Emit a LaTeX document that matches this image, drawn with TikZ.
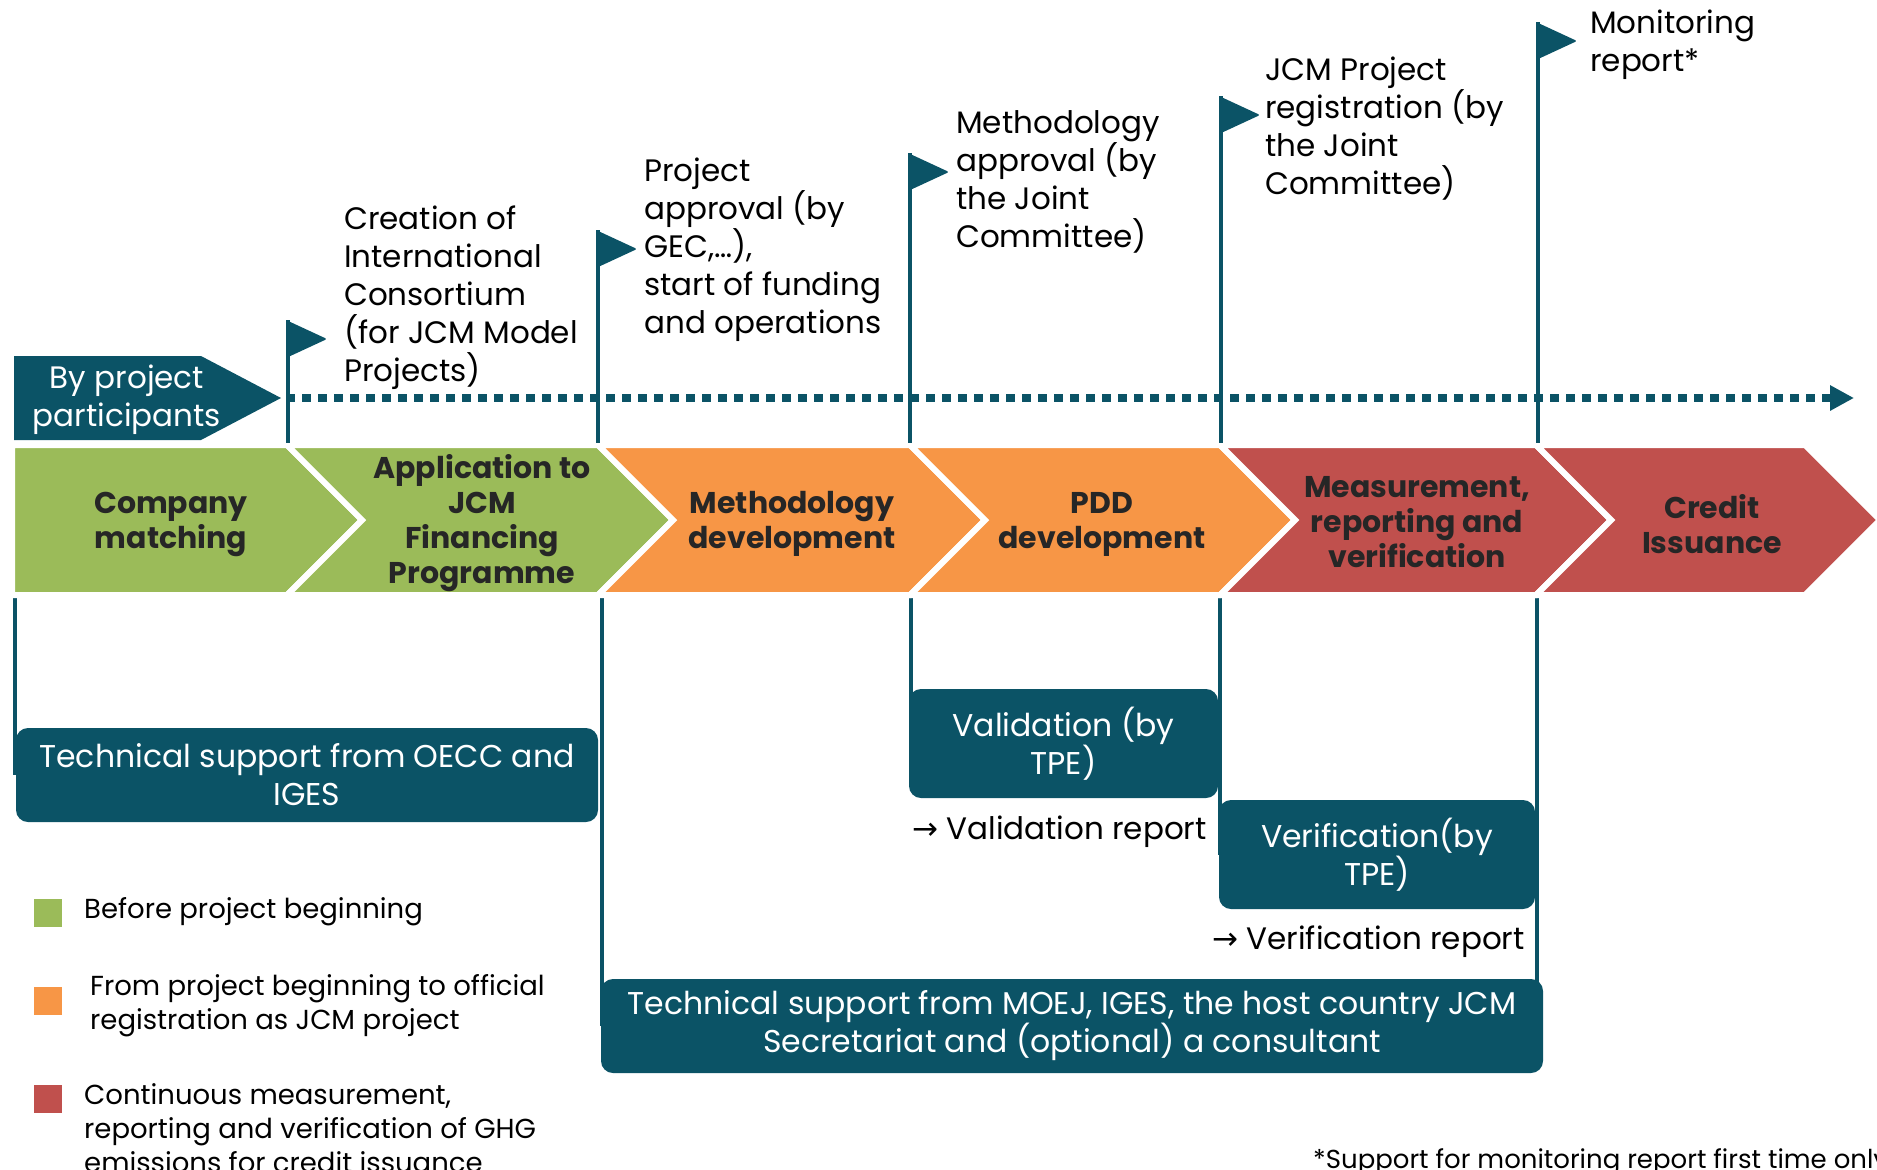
\documentclass[tikz,border=0pt]{standalone}
\usepackage{fontspec}
\setmainfont{Poppins}
\newfontfamily\arrowfont{DejaVu Sans}
\usetikzlibrary{arrows.meta,backgrounds}
\definecolor{tealc}{HTML}{0B5366}
\definecolor{greenc}{HTML}{9BBB59}
\definecolor{orangec}{HTML}{F79646}
\definecolor{redc}{HTML}{C0504D}
\definecolor{darktxt}{HTML}{262626}
\tikzset{
  chev/.style={draw=white, line width=6pt, line join=miter},
  chevtext/.style={inner sep=0pt, align=center, text=darktxt, font=\fontsize{30}{35}\selectfont\bfseries},
  flagtext/.style={inner sep=0pt, align=left, anchor=west, text=black, font=\fontsize{31}{38}\selectfont},
  pole/.style={draw=tealc, line width=4pt},
  flagshape/.style={fill=tealc, rounded corners=2pt},
  bluebox/.style={fill=tealc, rounded corners=12pt, text=white, align=center, inner sep=0pt, font=\fontsize{31.5}{38}\selectfont},
  reptext/.style={inner sep=0pt, anchor=west, text=black, font=\fontsize{31}{38}\selectfont},
  legtext/.style={inner sep=0pt, anchor=west, align=left, text=black, font=\fontsize{27.5}{34}\selectfont},
}
\begin{document}
\begin{tikzpicture}[x=1pt,y=-1pt]
\useasboundingbox (0,0) rectangle (1877,1170);
\clip (0,0) rectangle (1877,1170);

% chevrons
\fill[greenc, chev] (12,445) -- (287,445) -- (362,520) -- (287,595) -- (12,595) -- cycle;
\fill[greenc, chev] (287,445) -- (598,445) -- (673,520) -- (598,595) -- (287,595) -- (362,520) -- cycle;
\fill[orangec, chev] (598,445) -- (910,445) -- (985,520) -- (910,595) -- (598,595) -- (673,520) -- cycle;
\fill[orangec, chev] (910,445) -- (1220,445) -- (1295,520) -- (1220,595) -- (910,595) -- (985,520) -- cycle;
\fill[redc, chev] (1220,445) -- (1536,445) -- (1611,520) -- (1536,595) -- (1220,595) -- (1295,520) -- cycle;
\fill[redc, chev] (1536,445) -- (1805,445) -- (1880,520) -- (1805,595) -- (1536,595) -- (1611,520) -- cycle;

\node[chevtext] (s1) at (171,524) {Company\\matching};
\node[chevtext] (s2) at (482,523) {Application to\\JCM\\Financing\\Programme};
\node[chevtext] (s3) at (792,524) {Methodology\\development};
\node[chevtext] (s4) at (1102,524) {PDD\\development};
\node[chevtext] (s5) at (1417,522) {Measurement,\\reporting and\\verification};
\node[chevtext] (s6) at (1712,524) {Credit\\Issuance};

% by project participants
\fill[tealc] (14,356) -- (201,356) -- (281,398) -- (201,440) -- (14,440) -- cycle;
\node[inner sep=0pt, align=center, text=white, font=\fontsize{31}{38}\selectfont] (bpp) at (127,400) {By project\\participants};
\coordinate (dotstart) at (286,398);
\coordinate (dotend) at (1854,398);
\draw[tealc, line width=8pt, dash pattern=on 9pt off 7pt, -{Triangle[length=24pt,width=24pt]}] (dotstart) -- (dotend);

% flags
\foreach \n/\x/\t in {1/288/320, 2/598/230, 3/910/153, 4/1221/96, 5/1538/22}{
  \coordinate (f\n top) at (\x,\t);
  \coordinate (f\n bot) at (\x,443);
  \draw[pole] (f\n top) -- (f\n bot);
  \fill[flagshape] (\x-2,\t) -- (\x+39,\t+19) -- (\x-2,\t+38) -- cycle;
}

\node[flagtext] (t1) at (344,298) {Creation of\\International\\Consortium\\(for JCM Model\\Projects)};
\node[flagtext] (t2) at (644,250) {Project\\approval (by\\GEC,\ldots),\\start of funding\\and operations};
\node[flagtext] (t3) at (956,182) {Methodology\\approval (by\\the Joint\\Committee)};
\node[flagtext] (t4) at (1265,129) {JCM Project\\registration (by\\the Joint\\Committee)};
\node[flagtext] (t5) at (1590,45) {Monitoring\\report*};

% support boxes
\node[bluebox, minimum width=582pt, minimum height=94pt] (oecc) at (307,775) {Technical support from OECC and\\IGES};
\node[bluebox, minimum width=309pt, minimum height=109pt] (valid) at (1063.5,743.5) {Validation (by\\TPE)};
\node[bluebox, minimum width=316pt, minimum height=109pt] (verif) at (1377,854.5) {Verification(by\\TPE)};
\node[bluebox, minimum width=942pt, minimum height=94pt] (moej) at (1072,1026) {Technical support from MOEJ, IGES, the host country JCM\\Secretariat and (optional) a consultant};

\begin{scope}[on background layer]
  \coordinate (d1) at (15,597);
  \coordinate (d2) at (602,597);
  \coordinate (d3) at (911,597);
  \coordinate (d4) at (1220,597);
  \coordinate (d5) at (1537,597);
  \draw[pole] (d1) -- (d1 |- oecc.center);
  \draw[pole] (d2) -- (d2 |- moej.center);
  \draw[pole] (d3) -- (d3 |- valid.center);
  \draw[pole] (d4) -- (d4 |- verif.center);
  \draw[pole] (d5) -- (d5 |- moej.center);
\end{scope}

\node[reptext] (vrep) at (912,832) {{\arrowfont →} Validation report};
\node[reptext] (verrep) at (1212,942) {{\arrowfont →} Verification report};

% legend
\fill[greenc] (34,899) rectangle (62,927);
\fill[orangec] (34,987) rectangle (62,1015);
\fill[redc] (34,1085) rectangle (62,1113);
\node[legtext] (l1) at (84,912) {Before project beginning};
\node[legtext] (l2) at (90,1006) {From project beginning to official\\registration as JCM project};
\node[legtext] (l3) at (84,1128) {Continuous measurement,\\reporting and verification of GHG\\emissions for credit issuance};

\node[inner sep=0pt, anchor=west, font=\fontsize{26}{34}\selectfont] (foot) at (1313,1162) {*Support for monitoring report first time only};
\end{tikzpicture}
\end{document}
